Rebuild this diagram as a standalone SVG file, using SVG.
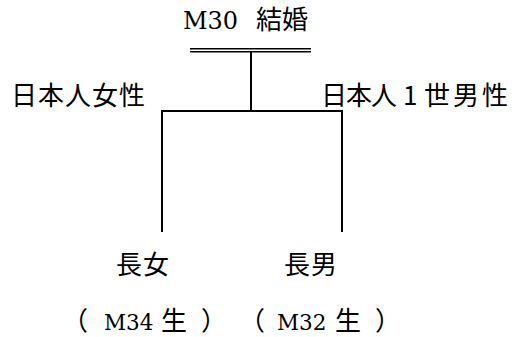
<svg xmlns="http://www.w3.org/2000/svg" width="517" height="337" viewBox="0 0 517 337">
<style>
text{fill:#000}
.cjk{font-family:"Noto Sans CJK JP","Noto Sans CJK SC",sans-serif;font-size:26px;letter-spacing:1px}
.ser{font-family:"DejaVu Serif","Liberation Serif",serif;letter-spacing:0}
.ln{stroke:#000;stroke-width:2;fill:none}
.dbl{stroke:#000;stroke-width:1.5;fill:none}
</style>
<rect width="517" height="337" fill="#fff"/>
<g id="marriage">
<text y="29" class="cjk"><tspan x="183" class="ser" font-size="24" letter-spacing="2">M30</tspan><tspan x="256" letter-spacing="0">結婚</tspan></text>
</g>
<g id="mother">
<text x="11" y="105" class="cjk">日本人女性</text>
</g>
<g id="father">
<text y="105" class="cjk"><tspan x="321" letter-spacing="-1">日本人</tspan><tspan x="403">1</tspan><tspan x="424" letter-spacing="3">世男性</tspan></text>
</g>
<g id="daughter">
<text x="116" y="274" class="cjk" letter-spacing="0">長女</text>
<text y="330" class="cjk" letter-spacing="0"><tspan x="62">（</tspan><tspan x="104" class="ser" font-size="21.5">M34</tspan><tspan x="161">生</tspan><tspan x="201">）</tspan></text>
</g>
<g id="son">
<text x="284" y="274" class="cjk" letter-spacing="0">長男</text>
<text y="330" class="cjk" letter-spacing="0"><tspan x="239">（</tspan><tspan x="277" class="ser" font-size="21.5">M32</tspan><tspan x="335">生</tspan><tspan x="375">）</tspan></text>
</g>
<g id="connectors">
<line class="dbl" x1="190" y1="48.7" x2="311" y2="48.7"/>
<line class="dbl" x1="190" y1="51.7" x2="311" y2="51.7"/>
<line class="ln" x1="251" y1="52" x2="251" y2="111"/>
<polyline class="ln" points="162,232 162,111 342,111 342,232"/>
</g>
</svg>
